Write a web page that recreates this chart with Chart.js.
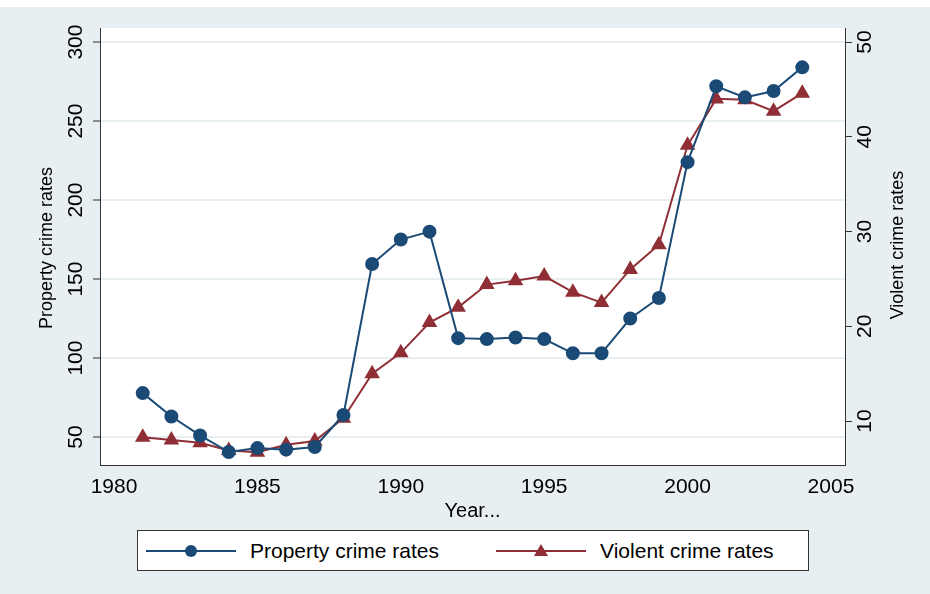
<!DOCTYPE html>
<html><head><meta charset="utf-8">
<script src="https://cdn.jsdelivr.net/npm/chart.js@4"></script>
<style>
body{margin:0;background:#fff;font-family:"Liberation Sans",Arial,sans-serif}
#wrap{position:absolute;left:0;top:7px;width:930px;height:587px;background:#e8eff2}
#cv{position:absolute;left:0;top:0}
#legend{position:absolute;left:137px;top:530px;width:672px;height:41px;background:#fff;border:1px solid #333;box-sizing:border-box;display:flex;align-items:center;font-size:21px;color:#000}
.it{display:flex;align-items:center;margin-left:8px}
.it svg{margin-right:14px}
</style></head><body>
<div id="wrap"></div>
<canvas id="cv" width="930" height="594"></canvas>
<div id="legend">
  <div class="it"><svg width="90" height="20"><line x1="0" y1="10" x2="90" y2="10" stroke="#1a4a75" stroke-width="2"/><circle cx="45" cy="10" r="6" fill="#1a4a75"/></svg>Property crime rates</div>
  <div class="it" style="margin-left:57px"><svg width="90" height="20"><line x1="0" y1="10" x2="90" y2="10" stroke="#8f2f35" stroke-width="2"/><polygon points="45,3 52,15 38,15" fill="#8f2f35"/></svg>Violent crime rates</div>
</div>
<script>
const years = [1981,1982,1983,1984,1985,1986,1987,1988,1989,1990,1991,1992,1993,1994,1995,1996,1997,1998,1999,2000,2001,2002,2003,2004];
const propertyRates = [77.8,63,51,40.5,43,42,43.7,64,159.5,175,180,112.6,112,113,112,103,103,125,138,224,272,265,269,284];
const violentRates = [8.3,8.0,7.7,6.9,6.7,7.5,7.9,10.3,15,17.2,20.4,22,24.4,24.8,25.3,23.6,22.5,26,28.6,39.1,44,43.9,42.7,44.6];
const xTicks = [1980,1985,1990,1995,2000,2005];
const leftTicks = [50,100,150,200,250,300];
const rightTicks = [10,20,30,40,50];

const pts = (arr) => arr.map((v, i) => ({x: years[i], y: v}));
const FONT = '"Liberation Sans", Arial, sans-serif';

// white plot area and rotated y labels like the original
const decor = {
  id: 'decor',
  beforeDraw(chart) {
    const {ctx, chartArea: a} = chart;
    ctx.save();
    ctx.fillStyle = '#fff';
    ctx.fillRect(a.left, a.top, a.right - a.left, a.bottom - a.top);
    ctx.restore();
  },
  afterDraw(chart) {
    const {ctx, scales} = chart;
    ctx.save();
    ctx.fillStyle = '#000';
    ctx.font = '21px ' + FONT;
    ctx.textAlign = 'center';
    ctx.textBaseline = 'middle';
    leftTicks.forEach(t => {
      const y = scales.y.getPixelForValue(t);
      ctx.save(); ctx.translate(76, y); ctx.rotate(-Math.PI / 2); ctx.fillText(String(t), 0, 0); ctx.restore();
    });
    rightTicks.forEach(t => {
      const y = scales.y2.getPixelForValue(t);
      ctx.save(); ctx.translate(865, y); ctx.rotate(-Math.PI / 2); ctx.fillText(String(t), 0, 0); ctx.restore();
    });
    ctx.font = '18px ' + FONT;
    ctx.save(); ctx.translate(47, 248); ctx.rotate(-Math.PI / 2); ctx.fillText('Property crime rates', 0, 0); ctx.restore();
    ctx.save(); ctx.translate(898, 245); ctx.rotate(-Math.PI / 2); ctx.fillText('Violent crime rates', 0, 0); ctx.restore();
    ctx.restore();
  }
};

new Chart(document.getElementById('cv'), {
  type: 'line',
  data: {
    datasets: [{
      label: 'Property crime rates',
      data: pts(propertyRates),
      borderColor: '#1a4a75', backgroundColor: '#1a4a75',
      borderWidth: 2, pointRadius: 6, pointStyle: 'circle', yAxisID: 'y'
    }, {
      label: 'Violent crime rates',
      data: pts(violentRates),
      borderColor: '#8f2f35', backgroundColor: '#8f2f35',
      borderWidth: 2, pointRadius: 7, pointStyle: 'triangle', yAxisID: 'y2'
    }]
  },
  options: {
    responsive: false, animation: false,
    layout: {padding: {top: 28, bottom: 69, left: 0, right: 0}},
    plugins: {legend: {display: false}, tooltip: {enabled: false}},
    scales: {
      x: {
        type: 'linear', min: 1979.51, max: 2005.49,
        afterBuildTicks: s => { s.ticks = xTicks.map(v => ({value: v})); },
        afterFit: s => { s.height = 60; },
        grid: {display: false, drawOnChartArea: false, drawTicks: true, tickLength: 7, tickColor: '#333'},
        border: {color: '#333', width: 1},
        ticks: {color: '#000', font: {size: 21, family: FONT}, padding: 3, maxRotation: 0, callback: v => String(v)},
        title: {display: true, text: 'Year...', color: '#000', font: {size: 20, family: FONT}, padding: {top: 0, bottom: 2}}
      },
      y: {
        position: 'left', min: 32.3, max: 308.9,
        afterBuildTicks: s => { s.ticks = leftTicks.map(v => ({value: v})); },
        afterFit: s => { s.width = 100; },
        grid: {color: '#e8eff2', lineWidth: 2, tickColor: '#333', tickLength: 7, tickWidth: 1},
        border: {color: '#333', width: 1},
        ticks: {display: false}
      },
      y2: {
        position: 'right', min: 5.36, max: 51.48,
        afterBuildTicks: s => { s.ticks = rightTicks.map(v => ({value: v})); },
        afterFit: s => { s.width = 85; },
        grid: {drawOnChartArea: false, tickColor: '#333', tickLength: 7},
        border: {color: '#333', width: 1},
        ticks: {display: false}
      }
    }
  },
  plugins: [decor]
});
</script>
</body></html>
